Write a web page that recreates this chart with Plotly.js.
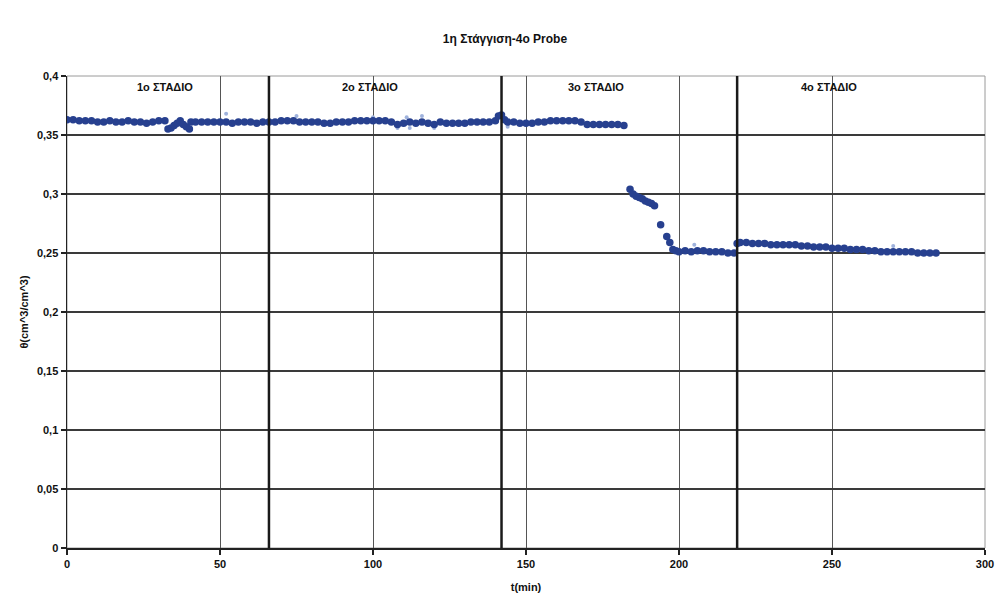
<!DOCTYPE html>
<html>
<head>
<meta charset="utf-8">
<script src="https://cdn.plot.ly/plotly-3.0.1.min.js"></script>
<style>html,body{margin:0;padding:0;background:#fff}#chart{width:996px;height:598px}</style>
</head>
<body>
<div id="chart"></div>
<script>
// Main measured series: time (min) and water content theta (cm^3/cm^3)
const timeMin = [
  0,2,4,6,8,10,12,14,16,18,20,22,24,26,28,30,32,
  33,34,35,36,37,38,39,40,40.5,
  42,44,46,48,50,52,54,56,58,60,62,64,66,68,70,72,74,76,78,80,82,84,86,88,90,
  92,94,96,98,100,102,104,106,108,110,112,114,116,118,120,122,124,126,128,130,
  132,134,136,138,140,141,142,143,144,
  146,148,150,152,154,156,158,160,162,164,166,168,170,172,174,176,178,180,182,
  184,185,186,187,188,189,190,191,192,194,196,197,
  198,199,200,202,204,206,208,210,212,214,216,218,
  219,220,222,224,226,228,230,232,234,236,238,240,242,244,246,248,250,252,254,
  256,258,260,262,264,266,268,270,272,274,276,278,280,282,284
];
const theta = [
  0.363,0.363,0.362,0.362,0.362,0.361,0.361,0.362,0.361,0.361,0.362,0.361,0.361,0.360,0.361,0.362,0.362,
  0.355,0.356,0.358,0.360,0.362,0.359,0.357,0.355,0.361,
  0.361,0.361,0.361,0.361,0.361,0.361,0.360,0.361,0.361,0.361,0.360,0.361,0.361,0.361,0.362,0.362,0.362,0.361,0.361,0.361,0.361,0.360,0.360,0.361,0.361,
  0.361,0.362,0.362,0.362,0.362,0.362,0.362,0.361,0.359,0.360,0.361,0.360,0.361,0.360,0.359,0.361,0.360,0.360,0.360,0.360,
  0.361,0.361,0.361,0.361,0.362,0.366,0.367,0.363,0.361,
  0.361,0.360,0.360,0.360,0.361,0.361,0.362,0.362,0.362,0.362,0.362,0.361,0.359,0.359,0.359,0.359,0.359,0.359,0.358,
  0.304,0.300,0.298,0.297,0.296,0.294,0.293,0.292,0.290,0.274,0.264,0.259,
  0.253,0.252,0.251,0.252,0.251,0.252,0.252,0.251,0.251,0.251,0.250,0.250,
  0.258,0.259,0.259,0.258,0.258,0.258,0.257,0.257,0.257,0.257,0.257,0.256,0.256,0.255,0.255,0.255,0.254,0.254,0.254,
  0.253,0.253,0.253,0.252,0.252,0.251,0.251,0.251,0.251,0.251,0.251,0.250,0.250,0.250,0.250
];
// Faint secondary readings
const timeFaint = [52,75,100,108,111,112,116,120,144,205,270];
const thetaFaint = [0.368,0.366,0.365,0.356,0.365,0.356,0.366,0.356,0.357,0.257,0.256];

// Stage boundaries and labels
const stageBounds = [66, 142, 219];
const stageLabels = ['1ο ΣΤΑΔΙΟ','2ο ΣΤΑΔΙΟ','3ο ΣΤΑΔΙΟ','4ο ΣΤΑΔΙΟ'];
const stageLabelX = [32, 99, 173, 249];
const stageLabelY = 0.3905;

const titleText = '1η Στάγγιση-4ο Probe';
const xTitle = 't(min)';
const yTitle = 'θ(cm^3/cm^3)';

const FONT = 'Liberation Sans, Arial, sans-serif';

const traces = [
  {x: timeFaint, y: thetaFaint, mode: 'markers', type: 'scatter',
   marker: {color: '#9fb2dc', size: 4, symbol: 'circle'}, hoverinfo: 'skip'},
  {x: timeMin, y: theta, mode: 'markers', type: 'scatter',
   marker: {color: '#27408f', size: 7.5, symbol: 'circle'}}
];

const shapes = stageBounds.map(b => ({
  type: 'line', xref: 'x', yref: 'y', x0: b, x1: b, y0: 0, y1: 0.4,
  line: {color: '#1a1a1a', width: 2.5}, layer: 'above'
}));
shapes.push({type: 'rect', xref: 'paper', yref: 'paper', x0: 0, x1: 1, y0: 0, y1: 1,
  line: {color: '#9a9a9a', width: 1}, layer: 'below'});

const annotations = stageLabels.map((s, i) => ({
  x: stageLabelX[i], y: stageLabelY, xref: 'x', yref: 'y', text: s, showarrow: false,
  font: {family: FONT, size: 11, color: '#111', weight: 'bold'}
}));

const layout = {
  width: 996, height: 598,
  margin: {l: 67, r: 11, t: 76, b: 50},
  paper_bgcolor: '#ffffff', plot_bgcolor: '#ffffff',
  separators: ',.',
  showlegend: false,
  title: {text: titleText, x: 0.507, xref: 'container', y: 0.935, yanchor: 'middle',
          font: {family: FONT, size: 12, color: '#111', weight: 'bold'}},
  xaxis: {
    range: [0, 300], dtick: 50, tick0: 0,
    showgrid: true, gridcolor: '#555', gridwidth: 1,
    zeroline: false, showline: true, linecolor: '#222', linewidth: 1.5,
    ticks: 'outside', ticklen: 5, tickcolor: '#222', tickwidth: 1.5,
    tickfont: {family: FONT, size: 11, color: '#111', weight: 'bold'},
    title: {text: xTitle, standoff: 14, font: {family: FONT, size: 11, color: '#111', weight: 'bold'}}
  },
  yaxis: {
    range: [0, 0.4], dtick: 0.05, tick0: 0,
    showgrid: true, gridcolor: '#3a3a3a', gridwidth: 1.3,
    zeroline: false, showline: true, linecolor: '#222', linewidth: 1.5,
    ticks: 'outside', ticklen: 5, tickcolor: '#222', tickwidth: 1.5,
    tickfont: {family: FONT, size: 11, color: '#111', weight: 'bold'},
    title: {text: yTitle, standoff: 6, font: {family: FONT, size: 11, color: '#111', weight: 'bold'}}
  },
  shapes: shapes,
  annotations: annotations
};

Plotly.newPlot('chart', traces, layout, {displayModeBar: false, staticPlot: true});
</script>
</body>
</html>
